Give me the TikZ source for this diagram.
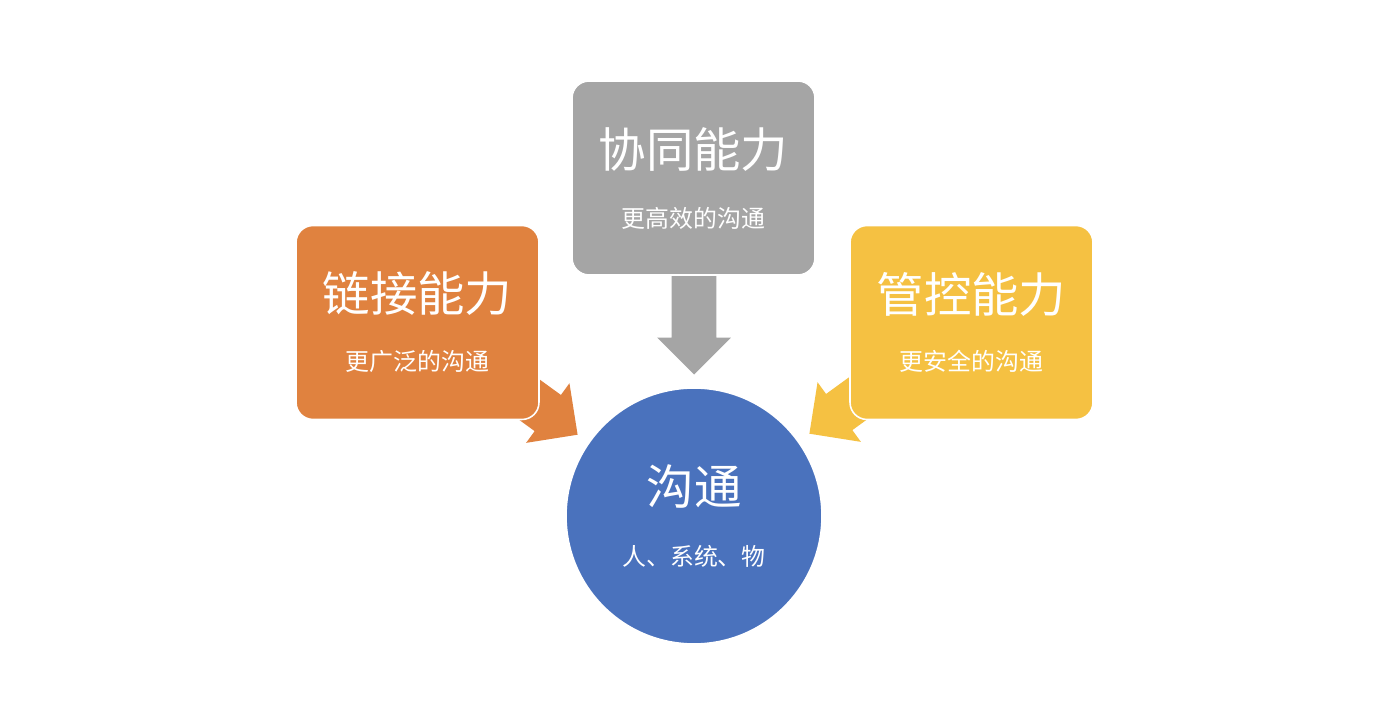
\documentclass[tikz,border=0pt]{standalone}
\usepackage{fontspec}
\newfontfamily\cjk{Noto Sans CJK SC}
\usetikzlibrary{shapes.arrows}
\definecolor{corange}{HTML}{E0823F}
\definecolor{cgray}{HTML}{A5A5A5}
\definecolor{cyellow}{HTML}{F5C142}
\definecolor{cblue}{HTML}{4A72BD}
\begin{document}
\begin{tikzpicture}[x=0.02cm,y=-0.02cm,
  blockarrow/.style={single arrow, draw=none, fill=#1, inner xsep=0pt, inner ysep=0.44cm,
    minimum width=1.46cm, single arrow head extend=0.29cm,
    single arrow tip angle=90, anchor=tip},
  card/.style={rectangle, rounded corners=0.34cm, fill=#1, draw=white,
    line width=0.9pt, minimum width=4.86cm, minimum height=3.88cm, inner sep=0pt},
  hub/.style={circle, fill=cblue, draw=white, line width=0.9pt,
    minimum size=5.12cm, inner sep=0pt},
  title/.style={text=white, font=\cjk\fontsize{27}{30}\selectfont, inner sep=0pt},
  sub/.style={text=white, font=\cjk\fontsize{13.6}{16}\selectfont, inner sep=0pt}]
\useasboundingbox (0,0) rectangle (1400,722);
\fill[white] (0,0) rectangle (1400,722);
% block arrows (behind the cards)
\node[blockarrow=cgray, minimum height=2.3cm, rotate=-90] (a2) at (694,375) {};
\node[blockarrow=corange, minimum height=2.2cm, rotate=-36] (a1) at (578,435) {};
\node[blockarrow=cyellow, minimum height=2.2cm, rotate=-144] (a3) at (809,434) {};
% cards
\node[card=cgray] (b2) at (693.5,178) {};
\node[card=corange] (b1) at (417.5,322.5) {};
\node[card=cyellow] (b3) at (971.5,322.5) {};
% hub
\node[hub] (c) at (694,516) {};
% texts
\node[title] (t2) at (693.5,150) {协同能力};
\node[sub] (s2) at (693.5,218) {更高效的沟通};
\node[title] (t1) at (417.5,294) {链接能力};
\node[sub] (s1) at (417.5,361) {更广泛的沟通};
\node[title] (t3) at (971.5,294) {管控能力};
\node[sub] (s3) at (971.5,361) {更安全的沟通};
\node[title] (tc) at (694,487) {沟通};
\node[sub] (sc) at (694,556) {人、系统、物};
\end{tikzpicture}
\end{document}
